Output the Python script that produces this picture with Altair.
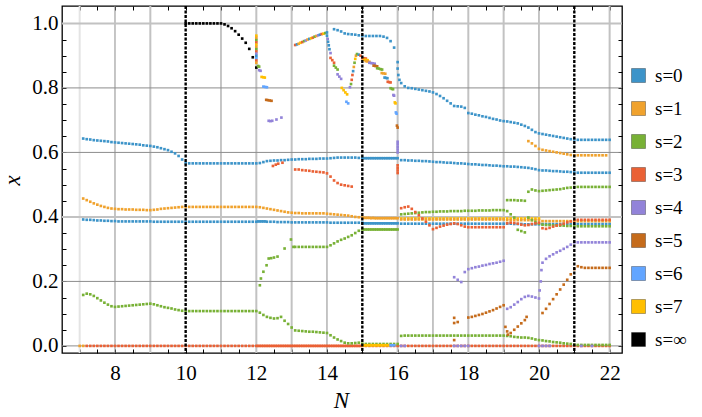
import altair as alt
import pandas as pd

# ---------------------------------------------------------------- layout
W, H = 560, 347
X_DOMAIN = [6.5, 22.35]
Y_DOMAIN = [-0.022, 1.054]
SERIF = "Liberation Serif"

S_LABELS = ["s=0", "s=1", "s=2", "s=3", "s=4", "s=5", "s=6", "s=7", "s=∞"]
S_COLORS = ["#3d94c9", "#f0a22d", "#78b136", "#ea6135", "#9283d9",
            "#c56b1b", "#62a5ff", "#ffbf00", "#000000"]

# ---------------------------------------------------------------- data
# long branches sampled every 0.1 in N: (first N, values)
s0_upper_n0 = 7.1
s0_upper = [
    .643, .641, .640, .638, .637, .636, .635, .634, .632, .631,
    .630, .629, .628, .627, .626, .625, .624, .622, .621, .620,
    .618, .616, .613, .610, .607, .602, .597, .589, .578, .567,
    .566, .566, .566, .566, .566, .566, .566, .566, .566, .566,
    .566, .566, .566, .566, .566, .566, .566, .566, .566, .566,
    .567, .570, .573, .574, .575, .575, .576, .576, .577, .578,
    .578, .579, .579, .579, .580, .580, .580, .581, .581, .581,
    .582, .583, .584, .584, .584, .584, .584, .584, .583, .583,
    .582, .582, .582, .582, .582, .582, .582, .582, .582, .582,
    .576, .576, .575, .575, .574, .574, .573, .573, .572, .571,
    .570, .570, .569, .568, .568, .567, .566, .566, .565, .564,
    .563, .563, .562, .561, .561, .560, .559, .559, .558, .557,
    .557, .556, .556, .555, .554, .553, .552, .550, .548, .545,
    .544, .544, .543, .542, .542, .541, .540, .540, .539, .538,
    .537, .537, .537, .537, .537, .537, .537, .537, .537, .537,
]

s0_lower_n0 = 7.1
s0_lower = [
    .392, .391, .391, .390, .389, .389, .388, .388, .387, .387,
    .386, .386, .386, .386, .386, .386, .386, .386, .386, .386,
    .385, .385, .385, .385, .385, .385, .385, .385, .385, .385,
    .385, .385, .385, .385, .385, .385, .385, .385, .385, .385,
    .385, .385, .385, .385, .385, .385, .385, .385, .385, .385,
    .386, .386, .385, .385, .385, .384, .384, .384, .384, .383,
    .383, .383, .383, .383, .383, .383, .383, .383, .383, .383,
    .382, .382, .382, .382, .382, .382, .382, .382, .382, .382,
    .380, .380, .380, .380, .380, .380, .380, .380, .380, .380,
    .379, .379, .379, .379, .379, .379, .379, .379, .379, .379,
    .379, .379, .379, .379, .379, .379, .379, .379, .379, .379,
    .379, .379, .379, .379, .379, .379, .379, .379, .379, .379,
    .379, .379, .378, .378, .378, .377, .377, .377, .377, .377,
    .378, .378, .378, .378, .378, .378, .378, .378, .378, .378,
    .378, .378, .378, .378, .378, .378, .378, .378, .378, .378,
]

s1_main_n0 = 7.1
s1_main = [
    .457, .452, .447, .442, .438, .434, .431, .428, .426, .425,
    .424, .424, .423, .423, .423, .422, .422, .422, .421, .421,
    .422, .423, .425, .426, .427, .428, .429, .430, .431, .431,
    .431, .431, .431, .431, .431, .431, .431, .431, .431, .431,
    .431, .431, .431, .431, .431, .431, .431, .431, .431, .431,
    .430, .428, .426, .424, .422, .420, .418, .416, .414, .413,
    .412, .412, .411, .411, .411, .411, .411, .411, .411, .410,
    .409, .408, .407, .406, .405, .404, .402, .400, .399, .398,
    .397, .397, .397, .396, .396, .396, .396, .396, .396, .396,
    .392, .392, .392, .392, .392, .392, .392, .392, .392, .392,
    .392, .392, .392, .392, .392, .392, .392, .392, .392, .392,
    .392, .392, .392, .392, .392, .392, .392, .392, .392, .392,
    .390, .390, .390, .390, .390, .390, .390, .390, .390, .390,
    .387, .387, .387, .387, .387, .387, .387, .387, .387, .387,
    .387, .387, .387, .387, .387, .387, .387, .387, .387, .387,
]

s1_upper_n0 = 19.7
s1_upper = [
    .635, .628, .620, .611, .608, .606, .604, .602, .600, .598,
    .596, .594, .592, .591, .591, .591, .591, .591, .591, .591,
    .591, .591, .591,
]

s2_lower_n0 = 7.1
s2_lower = [
    .158, .162, .160, .155, .148, .141, .134, .128, .123, .121,
    .122, .123, .124, .125, .126, .127, .128, .129, .130, .131,
    .129, .126, .123, .120, .118, .116, .113, .111, .109, .108,
    .108, .108, .108, .108, .108, .108, .108, .108, .108, .108,
    .108, .108, .108, .108, .108, .108, .108, .108, .108, .108,
    .103, .096, .090, .087, .085, .086, .090, .078, .068, .057,
    .048, .047, .046, .045, .044, .044, .043, .042, .041, .040,
    .033, .026, .020, .015, .010, .008, .008, .009, .010, .007,
    .006, .006, .006, .006, .006, .006, .006, .006, .006, .006,
    .031, .032, .032, .032, .032, .032, .032, .032, .032, .032,
    .032, .032, .032, .032, .032, .032, .032, .032, .032, .032,
    .032, .032, .032, .032, .032, .032, .032, .032, .032, .032,
    .031, .030, .028, .027, .026, .026, .025, .023, .020, .018,
    .017, .015, .014, .012, .011, .010, .008, .007, .006, .004,
    .003, .003, .003, .003, .003, .003, .003, .003, .003, .003,
]

s2_middle_n0 = 16.1
s2_middle = [
    .408, .409, .410, .411, .412, .413, .414, .415, .415, .416,
    .416, .417, .417, .417, .418, .418, .418, .418, .419, .419,
    .419, .419, .420, .420, .420, .420, .421, .421, .421, .421,
    .418, .408, .398, .360, .356, .352, .398, .390, .384, .379,
    .376, .375, .375, .374, .374, .373, .373, .372, .372, .372,
    .371, .371, .371, .371, .371, .371, .371, .371, .371, .371,
]

s2_upper_n0 = 19.1
s2_upper = [
    .452, .452, .452, .451, .451, .450, .478, .485, .482, .480,
    .481, .482, .483, .484, .485, .486, .488, .490, .491, .493,
    .493, .493, .493, .493, .493, .493, .493, .493, .493, .493,
]

s3_zero_n0 = 7.2
s3_zero = [0.0] * 149

s3_middle_n0 = 13.1
s3_middle = [
    .547, .547, .545, .544, .543, .541, .540, .539, .538, .535,
    .525, .513, .505, .500, .498, .496, .494,
]

s3_right_n0 = 16.1
s3_right = [
    .427, .430, .432, .425, .415, .405, .395, .385, .374, .362,
    .366, .370, .373, .376, .378, .380, .378, .374, .370, .368,
    .368, .368, .368, .368, .368, .368, .368, .368, .368, .368,
    .380, .382, .381, .379, .376, .374, .375, .378, .380, .382,
    .365, .363, .366, .370, .373, .376, .379, .383, .386, .390,
    .391, .391, .391, .391, .391, .391, .391, .391, .391, .391,
]

s7_middle_n0 = 16.1
s7_middle = [.395] * 40

s0_top_n0 = 14.2
s0_top = [
    .982, .979, .975, .969, .967, .966, .965, .963, .962,
    .961, .961, .961, .961, .961, .959, .955, .945, .925, .880,
    .815, .805, .800, .799, .797, .795, .793, .791, .789, .786,
    .781, .775, .768, .760, .752, .744, .743, .742, .738, .722,
    .720, .717, .715, .712, .710, .707, .704, .702, .699, .697,
    .696, .694, .692, .690, .686, .682, .677, .670, .663, .659,
    .657, .655, .653, .651, .649, .647, .645, .643, .641, .640,
    .639, .639, .639, .639, .639, .639, .639, .639, .639, .639,
]

sinf_n0 = 10.0
sinf = [
    1.0, 1.0, 1.0, 1.0, 1.0, 1.0, 1.0, 1.0, 1.0, 1.0, 1.0,
    .997, .992, .985, .976, .965, .953, .940, .921, .895, .863,
]

# extra in-between samples where the branches are sampled more finely
fine_n0 = 15.05
fine_s0_upper = [.582] * 10
fine_s0_lower = [.380] * 10
fine_s1 = [.397, .397, .396, .396, .396, .396, .396, .396, .396, .396]
fine_s2 = [.361] * 10
fine_zero_n0 = 12.05
fine_s3_zero = [0.0] * 30
fine_s0_mid_n0 = 12.05
fine_s0_mid = [.386, .386, .386]

s4_right = [
    (17.6, .213), (17.7, .205), (17.8, .198),
    (17.9, .229), (18.0, .238), (18.1, .241), (18.2, .244), (18.3, .246),
    (18.4, .249), (18.5, .251), (18.6, .254), (18.7, .256), (18.8, .258),
    (18.9, .261), (19.0, .264),
    (19.1, .115), (19.2, .120), (19.3, .128), (19.4, .136), (19.5, .145),
    (19.6, .152), (19.7, .155), (19.8, .153), (19.9, .150), (20.0, .147),
    (20.02, .172), (20.05, .200), (20.07, .235), (20.1, .258),
    (20.2, .270), (20.3, .278), (20.4, .284), (20.5, .290), (20.6, .295),
    (20.7, .301), (20.8, .307), (20.9, .314), (21.0, .321),
    (21.1, .321), (21.2, .321), (21.3, .321), (21.4, .321), (21.5, .321),
    (21.6, .321), (21.7, .321), (21.8, .321), (21.9, .321), (22.0, .321),
]

s5_right = [
    (17.6, .018), (17.6, .087), (17.6, .071), (17.7, .074),
    (18.0, .088), (18.1, .090), (18.2, .093), (18.3, .096), (18.4, .099),
    (18.5, .103), (18.6, .107), (18.7, .111), (18.8, .116), (18.9, .121),
    (19.0, .126),
    (19.05, .059), (19.1, .045), (19.12, .035), (19.2, .040), (19.3, .050),
    (19.4, .060), (19.5, .070), (19.6, .080), (19.65, .090),
    (20.1, .102), (20.2, .115), (20.3, .130), (20.4, .145), (20.5, .160),
    (20.6, .175), (20.7, .190), (20.8, .205), (20.9, .222), (21.0, .238),
    (21.1, .247), (21.2, .244), (21.3, .242), (21.4, .242), (21.5, .242),
    (21.6, .242), (21.7, .242), (21.8, .242), (21.9, .242), (22.0, .242),
]

s2_rise = [
    (12.1, .188), (12.13, .209), (12.2, .230), (12.29, .250), (12.35, .271),
    (12.42, .272), (12.5, .274), (12.6, .277), (12.8, .302), (12.98, .330),
    (13.05, .307), (13.1, .307), (13.2, .307), (13.3, .307), (13.4, .307),
    (13.5, .307), (13.6, .307), (13.7, .307), (13.8, .307), (13.9, .307),
    (14.0, .307), (14.1, .312), (14.2, .318), (14.3, .324), (14.4, .329),
    (14.5, .333), (14.6, .338), (14.7, .343), (14.8, .350), (14.9, .357),
    (15.0, .361), (15.1, .361), (15.2, .361), (15.3, .361), (15.4, .361),
    (15.5, .361), (15.6, .361), (15.7, .361), (15.8, .361), (15.9, .361),
    (16.0, .361),
]

s3_short = [(12.47, .558), (12.55, .562), (12.62, .565), (12.74, .568)]

near_zero = [
    (7.0, 0.0, 1), (7.1, 0.0, 1),
    (15.0, .002, 7), (15.05, .002, 7), (15.1, .002, 7), (15.15, .002, 7),
    (15.2, .002, 7), (15.25, .002, 7), (15.3, .002, 7), (15.35, .002, 7),
    (15.4, .002, 7), (15.45, .002, 7), (15.5, .002, 7), (15.55, .002, 7),
    (15.6, .002, 7), (15.65, .002, 7), (15.7, .002, 7), (15.75, .002, 7),
    (15.8, .002, 6), (15.85, .002, 6), (15.9, .002, 6), (16.1, 0.0, 4),
    (16.2, 0.0, 4),
    (17.6, 0.0, 4), (17.7, 0.0, 4), (17.8, 0.0, 4), (17.9, 0.0, 4),
    (18.0, 0.0, 4), (20.0, 0.0, 4), (20.1, 0.0, 4), (20.2, 0.0, 4),
    (20.3, 0.0, 4), (21.2, 0.0, 4), (21.5, 0.0, 4),
]

# mixed-label points near the level crossings (N, x, s index)
crossings = [
    (12.0, .962, 7), (12.0, .955, 1), (12.0, .948, 2), (12.0, .941, 3),
    (12.0, .934, 7), (12.0, .927, 1), (12.0, .920, 2), (12.0, .913, 3),
    (12.0, .906, 4), (12.0, .899, 0), (12.0, .892, 6), (12.0, .885, 3),
    (12.0, .878, 1), (12.05, .868, 2), (12.08, .866, 2),
    (12.08, .855, 4), (12.12, .853, 4),
    (12.15, .834, 7), (12.2, .833, 7), (12.24, .832, 7),
    (12.2, .804, 6), (12.25, .803, 6), (12.3, .802, 6),
    (12.28, .763, 5), (12.33, .762, 5), (12.38, .761, 5), (12.43, .760, 5),
    (12.35, .698, 4), (12.4, .697, 4), (12.45, .698, 4), (12.57, .702, 4),
    (12.71, .708, 4),
    (13.1, .933, 3), (13.15, .935, 0), (13.2, .937, 1), (13.25, .940, 7),
    (13.3, .942, 3), (13.35, .945, 2), (13.4, .947, 4), (13.45, .950, 1),
    (13.5, .952, 0), (13.55, .954, 7), (13.6, .956, 3), (13.65, .959, 2),
    (13.7, .961, 1), (13.75, .963, 4), (13.8, .965, 0), (13.85, .967, 3),
    (13.9, .968, 7), (13.95, .970, 2), (14.0, .972, 0),
    (14.0, .962, 0), (14.02, .952, 4), (14.03, .943, 0), (14.05, .932, 0),
    (14.07, .920, 0), (14.1, .908, 4),
    (14.1, .893, 3), (14.15, .886, 3), (14.2, .878, 3),
    (14.2, .869, 2), (14.25, .863, 2), (14.3, .857, 2),
    (14.3, .842, 4), (14.35, .835, 4), (14.4, .828, 4),
    (14.42, .800, 7), (14.47, .793, 7), (14.52, .786, 7), (14.57, .780, 7),
    (14.55, .757, 6), (14.6, .752, 6),
    (14.65, .802, 4), (14.68, .812, 2), (14.7, .825, 3), (14.72, .840, 3),
    (14.74, .852, 0), (14.76, .865, 1), (14.78, .878, 2), (14.8, .890, 7),
    (14.82, .900, 1), (14.85, .905, 2), (14.9, .903, 0), (14.95, .900, 3),
    (15.0, .892, 3), (15.05, .892, 3), (15.1, .891, 3),
    (15.05, .887, 7), (15.1, .887, 7), (15.15, .886, 7),
    (15.1, .883, 1), (15.15, .882, 1), (15.2, .881, 1),
    (15.2, .878, 4), (15.25, .877, 4), (15.3, .876, 4), (15.35, .875, 4),
    (15.32, .869, 5), (15.37, .868, 5), (15.42, .867, 5),
    (15.42, .861, 2), (15.47, .860, 2), (15.52, .858, 2), (15.56, .857, 2),
    (15.55, .846, 1), (15.6, .845, 1), (15.65, .844, 1),
    (15.63, .832, 0), (15.67, .831, 0), (15.71, .830, 0),
    (15.72, .819, 3), (15.76, .818, 3), (15.8, .817, 3),
    (15.8, .799, 2), (15.84, .797, 2), (15.87, .796, 2),
    (15.88, .778, 4), (15.9, .776, 4),
    (15.92, .755, 7), (15.94, .752, 7),
    (15.95, .724, 6), (15.97, .720, 6),
    (15.98, .683, 5), (16.0, .677, 5),
    (16.0, .860, 0), (16.02, .840, 0), (16.05, .825, 0),
    (16.0, .633, 4), (16.0, .625, 4), (16.0, .617, 4), (16.0, .609, 4),
    (16.0, .600, 4),
    (16.0, .560, 3), (16.0, .552, 3), (16.0, .544, 3), (16.0, .536, 3),
]

# grid, reference lines and frame ticks
GRID_N_DARK = [8, 11, 14, 17, 20]
GRID_N_LIGHT = [9, 12, 13, 16, 18, 19, 22]
GRID_N_FAINT = [7]
GRID_X_DARK = [0.0, 0.2, 0.6, 0.8]
GRID_X_LIGHT = [0.4, 1.0]
DASHED_N = [10, 15, 21]
TICKS_N = [7 + 0.5 * i for i in range(31)]
TICKS_X = [round(0.05 * i, 2) for i in range(21)]
LABELS_N = [8, 10, 12, 14, 16, 18, 20, 22]
LABELS_X = [0.0, 0.2, 0.4, 0.6, 0.8, 1.0]


# ---------------------------------------------------------------- table
rows = []


def add_run(s, n0, vals):
    for i, v in enumerate(vals):
        rows.append((round(n0 + 0.1 * i, 2), v, S_LABELS[s]))


def add_pairs(s, pairs):
    for n, v in pairs:
        rows.append((n, v, S_LABELS[s]))


add_run(3, s3_zero_n0, s3_zero)
add_run(3, fine_zero_n0, fine_s3_zero)
add_run(2, s2_lower_n0, s2_lower)
add_run(0, s0_lower_n0, s0_lower)
add_run(0, fine_n0, fine_s0_lower)
add_run(0, fine_s0_mid_n0, fine_s0_mid)
add_run(7, s7_middle_n0, s7_middle)
add_run(1, s1_main_n0, s1_main)
add_run(1, fine_n0, fine_s1)
add_run(2, s2_middle_n0, s2_middle)
add_run(2, fine_n0, fine_s2)
add_run(3, s3_right_n0, s3_right)
add_run(0, s0_upper_n0, s0_upper)
add_run(0, fine_n0, fine_s0_upper)
add_run(1, s1_upper_n0, s1_upper)
add_run(2, s2_upper_n0, s2_upper)
add_run(3, s3_middle_n0, s3_middle)
add_run(0, s0_top_n0, s0_top)
add_run(8, sinf_n0, sinf)
add_pairs(2, s2_rise)
add_pairs(3, s3_short)
add_pairs(4, s4_right)
add_pairs(5, s5_right)
for n, v, s in near_zero + crossings:
    rows.append((n, v, S_LABELS[s]))

df = pd.DataFrame(rows, columns=["N", "x", "s"])
df["order"] = range(len(df))

xs = alt.Scale(domain=X_DOMAIN, nice=False, zero=False)
ys = alt.Scale(domain=Y_DOMAIN, nice=False, zero=False)


def vrules(values, **style):
    return alt.Chart(pd.DataFrame({"N": values})).mark_rule(**style).encode(
        x=alt.X("N:Q", scale=xs, axis=None))


def hrules(values, **style):
    return alt.Chart(pd.DataFrame({"x": values})).mark_rule(**style).encode(
        y=alt.Y("x:Q", scale=ys, axis=None))


def tick_axis(orient, offset, values):
    return alt.Axis(orient=orient, offset=offset, values=values, labels=False,
                    ticks=True, tickSize=4, tickColor="black", tickWidth=1,
                    domain=False, grid=False, title=None)


grid = [
    vrules(GRID_N_FAINT, color="#e4e4e4", strokeWidth=2),
    vrules(GRID_N_LIGHT, color="#c2c2c2", strokeWidth=2),
    vrules(GRID_N_DARK, color="#8c8c8c", strokeWidth=1),
    hrules(GRID_X_LIGHT, color="#c2c2c2", strokeWidth=2),
    hrules(GRID_X_DARK, color="#8c8c8c", strokeWidth=1),
]

points = alt.Chart(df).mark_square(size=7, opacity=1).encode(
    x=alt.X("N:Q", scale=xs, axis=alt.Axis(
        orient="bottom", values=LABELS_N, format="d", ticks=False, domain=False,
        grid=False, labelFontSize=21, labelColor="black",
        labelPadding=9, title="N", titleFontSize=23,
        titleFontStyle="italic", titleFontWeight="normal", titleColor="black",
        titleX=279, titleY=47, titleBaseline="middle", titleAlign="center")),
    y=alt.Y("x:Q", scale=ys, axis=alt.Axis(
        orient="left", values=LABELS_X, format=".1f", ticks=False, domain=False,
        grid=False, labelFontSize=21, labelColor="black",
        labelPadding=4, title="x", titleFontSize=23,
        titleFontStyle="italic", titleFontWeight="normal", titleColor="black",
        titleX=-50, titleY=174, titleAngle=270, titleBaseline="middle",
        titleAlign="center")),
    color=alt.Color("s:N", scale=alt.Scale(domain=S_LABELS, range=S_COLORS),
                    legend=alt.Legend(
                        title=None, orient="none", legendX=567, legendY=53,
                        symbolType="square", symbolSize=196,
                        symbolStrokeWidth=1, symbolStrokeColor="rgba(0,0,0,0.3)",
                        symbolOpacity=1, labelFontSize=19,
                        labelColor="black", labelOffset=7, clipHeight=33,
                        rowPadding=0)),
    order=alt.Order("order:Q"),
)

dashed = vrules(DASHED_N, color="black", strokeWidth=2.4, strokeDash=[3, 1.5])

ticks = [
    alt.Chart(pd.DataFrame({"N": TICKS_N})).mark_rule(opacity=0).encode(
        x=alt.X("N:Q", scale=xs, axis=tick_axis("top", -H, TICKS_N))),
    alt.Chart(pd.DataFrame({"N": TICKS_N})).mark_rule(opacity=0).encode(
        x=alt.X("N:Q", scale=xs, axis=tick_axis("bottom", -H, TICKS_N))),
    alt.Chart(pd.DataFrame({"x": TICKS_X})).mark_rule(opacity=0).encode(
        y=alt.Y("x:Q", scale=ys, axis=tick_axis("right", -W, TICKS_X))),
    alt.Chart(pd.DataFrame({"x": TICKS_X})).mark_rule(opacity=0).encode(
        y=alt.Y("x:Q", scale=ys, axis=tick_axis("left", -W, TICKS_X))),
]

chart = alt.layer(*grid, points, dashed, *ticks).resolve_axis(
    x="independent", y="independent"
).properties(
    width=W, height=H,
    autosize=alt.AutoSizeParams(type="none"),
    padding={"left": 62, "top": 6, "right": 80, "bottom": 64},
).configure(
    background="white", font=SERIF
).configure_view(
    stroke="black", strokeWidth=1.3
)

chart.save("out.html", embed_options={"renderer": "svg", "actions": False})
